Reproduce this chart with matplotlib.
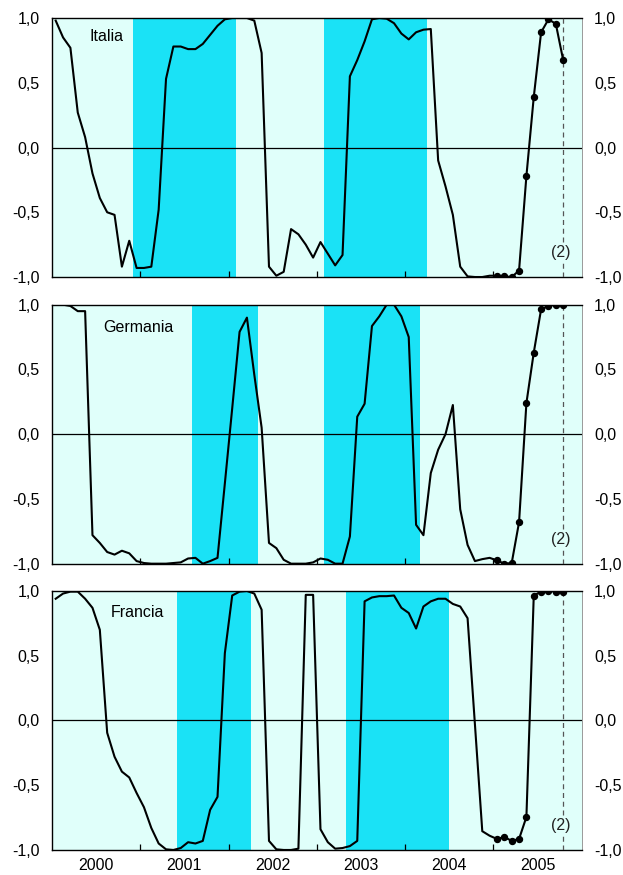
import numpy as np
import matplotlib.pyplot as plt
from matplotlib.ticker import FuncFormatter

plt.rcParams['font.family'] = ['Liberation Sans', 'DejaVu Sans']

# indicatori mensili, gen 2000 - ott 2005
italia = [0.98, 0.85, 0.77, 0.27, 0.08, -0.20, -0.39, -0.50, -0.52, -0.92, -0.72, -0.93,
          -0.93, -0.92, -0.48, 0.53, 0.78, 0.78, 0.76, 0.76, 0.80, 0.87, 0.94, 0.99,
          1.00, 1.00, 1.00, 0.98, 0.73, -0.92, -0.99, -0.96, -0.63, -0.67, -0.75, -0.85,
          -0.73, -0.82, -0.91, -0.83, 0.55, 0.675, 0.82, 0.99, 1.00, 0.995, 0.96, 0.88,
          0.835, 0.89, 0.91, 0.915, -0.10, -0.30, -0.52, -0.92, -0.995, -1.00, -1.00, -0.99,
          -0.99, -0.995, -1.00, -0.95, -0.22, 0.39, 0.89, 0.99, 0.955, 0.675]
germania = [1.00, 1.00, 0.99, 0.95, 0.95, -0.78, -0.84, -0.91, -0.93, -0.90, -0.92, -0.98,
            -0.995, -1.00, -1.00, -1.00, -0.995, -0.99, -0.96, -0.955, -1.00, -0.98, -0.955, -0.38,
            0.20, 0.79, 0.90, 0.46, 0.05, -0.84, -0.88, -0.97, -1.00, -1.00, -1.00, -0.99,
            -0.96, -0.97, -1.00, -1.00, -0.79, 0.135, 0.235, 0.835, 0.91, 1.00, 1.00, 0.91,
            0.75, -0.70, -0.78, -0.30, -0.12, 0.00, 0.225, -0.58, -0.855, -0.98, -0.965, -0.955,
            -0.975, -1.00, -0.995, -0.68, 0.24, 0.63, 0.965, 0.99, 1.00, 1.00]
francia = [0.94, 0.98, 0.995, 0.995, 0.94, 0.87, 0.70, -0.095, -0.28, -0.395, -0.44, -0.56,
           -0.67, -0.83, -0.95, -0.995, -1.00, -0.985, -0.94, -0.95, -0.93, -0.69, -0.59, 0.52,
           0.965, 0.995, 1.00, 0.98, 0.855, -0.93, -0.995, -1.00, -1.00, -0.99, 0.97, 0.97,
           -0.84, -0.94, -0.99, -0.985, -0.97, -0.93, 0.92, 0.95, 0.96, 0.96, 0.965, 0.87,
           0.83, 0.71, 0.88, 0.92, 0.94, 0.94, 0.90, 0.88, 0.79, -0.03, -0.855, -0.89,
           -0.915, -0.90, -0.93, -0.915, -0.745, 0.965, 0.995, 1.00, 0.995, 0.99]

# fasi (indice del mese di inizio, indice del mese di fine)
fasi_italia = [(11, 25), (37, 51)]
fasi_germania = [(19, 28), (37, 50)]
fasi_francia = [(17, 27), (40, 54)]

anni = [2000, 2001, 2002, 2003, 2004, 2005]
n_punti_2005 = 10

light = '#E0FFFA'
dark = '#1AE2F6'
fs = 11.5

panels = [
    ('Italia', italia, fasi_italia, (0.07, 0.93)),
    ('Germania', germania, fasi_germania, (0.096, 0.91)),
    ('Francia', francia, fasi_francia, (0.11, 0.917)),
]

tops = [0.9794, 0.6518, 0.3246]
height = 0.296

fig = plt.figure(figsize=(6.23, 8.75), dpi=100)

for k, (nome, serie, fasi, pos) in enumerate(panels):
    ax = fig.add_axes([0.0835, tops[k] - height, 0.850, height])
    ax.set_facecolor(light)
    n = len(serie)
    x = 2000 + (np.arange(n) + 0.5) / 12
    for a, b in fasi:
        ax.axvspan(2000 + a / 12, 2000 + b / 12, color=dark, lw=0, zorder=1)
    ax.axhline(0, color='black', lw=0.9, zorder=2)
    ax.plot(x, serie, color='black', lw=1.5, zorder=4)
    ax.plot(x[-n_punti_2005:], serie[-n_punti_2005:], 'o', color='black', ms=4.3, zorder=5)
    ax.axvline(x[-1], color='#555555', lw=0.9, ls=(0, (4, 3)), zorder=3)
    ax.text(x[-1] - 0.03, -0.81, '(2)', ha='center', va='center', fontsize=fs,
            color='#222222', zorder=6,
            bbox=dict(facecolor=light, edgecolor='none', pad=1.0))
    ax.text(pos[0], pos[1], nome, transform=ax.transAxes, fontsize=fs,
            ha='left', va='center', zorder=6)

    ax.set_xlim(2000, 2006)
    ax.set_ylim(-1, 1)
    ax.set_yticks([-1, -0.5, 0, 0.5, 1])
    ax.yaxis.set_major_formatter(FuncFormatter(lambda v, p: f'{v:.1f}'.replace('.', ',')))
    ax.tick_params(axis='y', length=0, labelsize=fs, pad=9, left=True, right=True,
                   labelleft=True, labelright=True)
    ax.set_xticks([a + 1 for a in anni[:-1]])
    ax.set_xticks([a + 0.5 for a in anni], minor=True)
    ax.tick_params(axis='x', which='major', direction='in', length=4, width=0.9,
                   labelbottom=False)
    if k == 2:
        ax.set_xticklabels([str(a) for a in anni], minor=True)
        ax.tick_params(axis='x', which='minor', length=0, labelsize=fs, pad=6)
    else:
        ax.tick_params(axis='x', which='minor', length=0, labelbottom=False)

    for s in ['left', 'bottom', 'top']:
        ax.spines[s].set_color('black')
        ax.spines[s].set_linewidth(1.0)
    ax.spines['right'].set_color('#999999')
    ax.spines['right'].set_linewidth(0.7)

fig.savefig('out.png', dpi=100)
